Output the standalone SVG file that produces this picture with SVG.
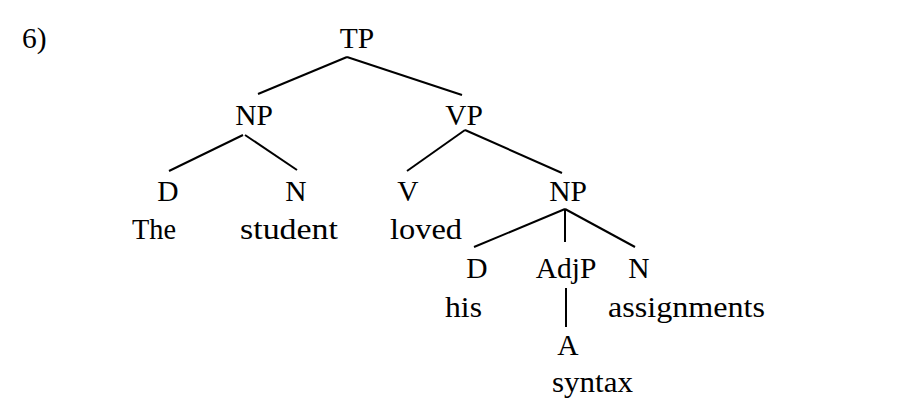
<svg xmlns="http://www.w3.org/2000/svg" width="899" height="407" viewBox="0 0 899 407">
<style>
text{font-family:"Liberation Serif","Times New Roman",serif;font-size:29.5px;fill:#000}
.c{text-anchor:middle}
#edges line{stroke:#000;stroke-width:2;stroke-linecap:butt}
</style>
<rect width="899" height="407" fill="#fff"/>
<text x="22" y="48">6)</text>
<g id="edges">
<line x1="347" y1="57" x2="258" y2="94"/>
<line x1="347" y1="57" x2="462" y2="95"/>
<line x1="243" y1="135" x2="169" y2="171"/>
<line x1="245" y1="135" x2="297" y2="170"/>
<line x1="465" y1="130" x2="407" y2="171"/>
<line x1="465" y1="130" x2="562" y2="173"/>
<line x1="565" y1="209" x2="474" y2="247"/>
<line x1="565" y1="209" x2="565" y2="242"/>
<line x1="565" y1="209" x2="635" y2="247"/>
<line x1="566" y1="288" x2="566" y2="327"/>
</g>
<g id="n-TP"><text class="c" x="357" y="48">TP</text></g>
<g id="n-NP1"><text class="c" x="254" y="125">NP</text></g>
<g id="n-VP"><text class="c" x="464" y="125">VP</text></g>
<g id="n-D1"><text class="c" x="168" y="201">D</text><text x="132" y="239" textLength="44" lengthAdjust="spacingAndGlyphs">The</text></g>
<g id="n-N1"><text class="c" x="296" y="201">N</text><text x="240" y="239" textLength="98" lengthAdjust="spacingAndGlyphs">student</text></g>
<g id="n-V"><text class="c" x="408" y="201">V</text><text x="390" y="239" textLength="72" lengthAdjust="spacingAndGlyphs">loved</text></g>
<g id="n-NP2"><text class="c" x="568" y="201">NP</text></g>
<g id="n-D2"><text class="c" x="477" y="278">D</text><text x="445" y="317" textLength="37" lengthAdjust="spacingAndGlyphs">his</text></g>
<g id="n-AdjP"><text class="c" x="566" y="278">AdjP</text></g>
<g id="n-N2"><text class="c" x="639" y="278">N</text><text x="608" y="317" textLength="157" lengthAdjust="spacingAndGlyphs">assignments</text></g>
<g id="n-A"><text class="c" x="568" y="355">A</text><text x="552" y="392" textLength="81" lengthAdjust="spacingAndGlyphs">syntax</text></g>
</svg>
